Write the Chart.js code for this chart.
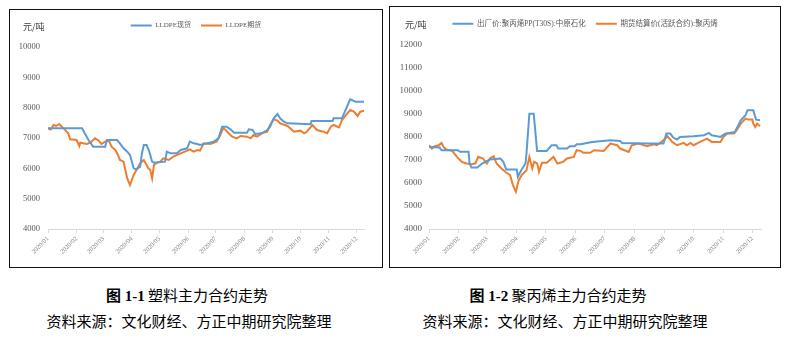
<!DOCTYPE html>
<html lang="zh-CN">
<head>
<meta charset="utf-8">
<title>塑料、聚丙烯主力合约走势</title>
<script src="https://cdn.jsdelivr.net/npm/chart.js@4.4.1/dist/chart.umd.min.js"></script>
<style>
  html, body { margin: 0; padding: 0; background: #fff; }
  body { width: 786px; height: 352px; position: relative; overflow: hidden; font-family: 'Noto Sans CJK SC', sans-serif; }
  canvas { position: absolute; }
  .box { position: absolute; border: 1.5px solid #111; box-sizing: border-box; pointer-events: none; }
  .unit { position: absolute; font-size: 9px; line-height: 12px; color: #404040; }
  .caption { position: absolute; width: 400px; text-align: center; font-size: 15px; line-height: 20px; color: #000; white-space: nowrap; }
  .caption b { font-family: 'Liberation Serif', 'Noto Sans CJK SC', serif; }
</style>
</head>
<body>

<canvas id="peChart" width="372" height="257" style="left:10px;top:10px"></canvas>
<div class="box" style="left:9px;top:9px;width:374px;height:259px"></div>
<div class="unit" style="left:23px;top:21px">元/吨</div>

<canvas id="ppChart" width="390" height="260" style="left:390px;top:7px"></canvas>
<div class="box" style="left:389px;top:6px;width:392px;height:262px"></div>
<div class="unit" style="left:405px;top:19px">元/吨</div>

<div class="caption" style="left:-13px;top:285px"><b>图 1-1</b> 塑料主力合约走势</div>
<div class="caption" style="left:-11px;top:311px">资料来源：文化财经、方正中期研究院整理</div>
<div class="caption" style="left:358px;top:285px"><b>图 1-2</b> 聚丙烯主力合约走势</div>
<div class="caption" style="left:365px;top:311px">资料来源：文化财经、方正中期研究院整理</div>

<script>
// x axis: day of year 2020 (0 = Jan 1), ticks at month starts
const MONTH_DAYS = [0, 31, 60, 91, 121, 152, 182, 213, 244, 274, 305, 335];
const MONTH_LABELS = ['2020/01', '2020/02', '2020/03', '2020/04', '2020/05', '2020/06',
                      '2020/07', '2020/08', '2020/09', '2020/10', '2020/11', '2020/12'];

const PE_Y_TICKS = [4000, 5000, 6000, 7000, 8000, 9000, 10000];
const PP_Y_TICKS = [4000, 5000, 6000, 7000, 8000, 9000, 10000, 11000, 12000];

// 图1-1 LLDPE现货
const peSpotDays = [0, 37, 40, 44, 49, 62, 64, 75, 78, 82, 86, 89, 93, 96, 100, 102, 104, 107, 110, 113,
  115, 127, 129, 133, 140, 144, 151, 154, 158, 162, 165, 173, 180, 185, 189, 194, 198, 202, 216, 218,
  222, 225, 232, 238, 241, 245, 249, 252, 256, 260, 285, 286, 309, 310, 319, 323, 328, 334, 343];
const peSpotPrice = [7320, 7320, 7150, 6935, 6714, 6714, 6934, 6934, 6824, 6660, 6550, 6440, 6000, 5967, 6055, 6500, 6769, 6769, 6550, 6220,
  6187, 6220, 6550, 6495, 6495, 6605, 6660, 6879, 6824, 6802, 6769, 6824, 6879, 6989, 7374, 7374, 7286, 7176, 7176, 7286,
  7264, 7132, 7154, 7264, 7374, 7649, 7792, 7649, 7539, 7484, 7451, 7561, 7561, 7649, 7650, 7923, 8275, 8198, 8198];

// 图1-1 LLDPE期货
const peFutDays = [0, 3, 6, 9, 12, 15, 18, 22, 24, 31, 34, 35, 42, 46, 51, 55, 58, 62, 66, 69,
  73, 76, 78, 82, 84, 86, 89, 93, 96, 100, 104, 107, 109, 111, 113, 115, 118, 122, 125, 131,
  136, 144, 151, 154, 158, 162, 165, 169, 176, 183, 187, 190, 193, 196, 200, 205, 209, 216, 220, 223,
  227, 232, 238, 241, 245, 249, 252, 260, 267, 274, 278, 281, 287, 292, 299, 303, 307, 310, 316, 319,
  325, 328, 332, 336, 339, 343];
const peFutPrice = [7319, 7280, 7429, 7396, 7462, 7374, 7286, 7154, 6956, 6934, 6736, 6846, 6802, 6846, 6989, 6912, 6802, 6879, 6912, 6714,
  6605, 6440, 6275, 6220, 5945, 5670, 5451, 5780, 5945, 6165, 6275, 6110, 6000, 5945, 5670, 6110, 6187, 6220, 6330, 6275,
  6385, 6495, 6583, 6627, 6550, 6605, 6583, 6824, 6802, 6879, 7099, 7319, 7264, 7154, 7044, 6989, 7066, 7044, 6989, 7099,
  7044, 7154, 7209, 7429, 7616, 7572, 7484, 7396, 7209, 7242, 7154, 7209, 7429, 7264, 7209, 7154, 7374, 7429, 7352, 7594,
  7813, 7923, 7868, 7726, 7868, 7901];

// 图1-2 出厂价:聚丙烯PP(T30S):中原石化
const ppSpotDays = [0, 11, 13, 30, 32, 41, 42, 44, 50, 55, 63, 74, 77, 80, 91, 92, 96, 100, 101, 104,
  108.5, 112, 122, 124, 127, 132, 134, 143, 146, 151, 153, 157, 169, 188, 198, 200, 226, 243, 246, 250,
  253, 257, 260, 274, 285, 290, 293, 302, 307, 317, 323, 328, 330, 336, 339, 343];
const ppSpotPrice = [7560, 7531, 7416, 7416, 7344, 7344, 6840, 6667, 6667, 6840, 7013, 7056, 6912, 6581, 6581, 6263, 6581, 6840, 7272, 9000,
  9000, 7387, 7387, 7488, 7632, 7632, 7488, 7488, 7589, 7589, 7675, 7675, 7776, 7848, 7820, 7733, 7704, 7704, 8136, 8136,
  7964, 7878, 7992, 8021, 8065, 8165, 8065, 7992, 8136, 8208, 8714, 8930, 9145, 9145, 8740, 8714];

// 图1-2 期货结算价(活跃合约):聚丙烯
const ppFutDays = [0, 3, 6, 10, 13, 15, 18, 24, 29, 34, 39, 44, 48, 51, 56, 60, 63, 67, 70, 75,
  79, 84, 87, 90, 93, 96, 101, 104, 107, 109, 112, 113, 114, 117, 122, 127, 129, 133, 139, 143,
  150, 153, 157, 160, 167, 171, 181, 188, 195, 198, 207, 210, 217, 226, 233, 236, 243, 247, 252, 257,
  264, 267, 271, 274, 281, 288, 293, 302, 305, 309, 316, 319, 323, 328, 331, 335, 336, 338, 340, 343];
const ppFutPrice = [7632, 7488, 7589, 7632, 7733, 7560, 7445, 7387, 7128, 6912, 6840, 6811, 6840, 7128, 7056, 6840, 7056, 7157, 6840, 6624,
  6480, 6335, 5903, 5615, 6119, 6335, 6551, 7128, 6624, 6912, 6840, 6696, 6480, 6869, 6869, 7056, 7128, 6840, 6912, 7056,
  7128, 7416, 7387, 7301, 7301, 7416, 7387, 7704, 7632, 7488, 7344, 7632, 7704, 7589, 7675, 7632, 7848, 8021, 7776, 7632,
  7733, 7632, 7733, 7632, 7776, 7921, 7776, 7776, 7992, 8136, 8136, 8300, 8570, 8787, 8743, 8743, 8570, 8424, 8570, 8454];

const BLUE = '#5B9BD5';
const ORANGE = '#ED7D31';
const SERIF = "'Liberation Serif', 'Noto Sans CJK SC', serif";

Chart.defaults.font.family = SERIF;

function makeChart(id, cfg) {
  const ctx = document.getElementById(id).getContext('2d');
  return new Chart(ctx, {
    type: 'line',
    data: {
      datasets: cfg.series.map(s => ({
        label: s.label,
        data: s.days.map((d, i) => ({ x: d, y: s.values[i] })),
        borderColor: s.color,
        backgroundColor: s.color,
        borderWidth: 2,
        pointRadius: 0,
        tension: 0,
      }))
    },
    options: {
      responsive: false,
      animation: false,
      devicePixelRatio: 1,
      layout: { padding: { top: cfg.padTop, left: 0, right: 0, bottom: 0 } },
      plugins: {
        legend: {
          position: 'top',
          labels: {
            boxWidth: 21,
            boxHeight: 0,
            padding: 10,
            color: '#595959',
            font: { size: cfg.legendSize }
          }
        },
        tooltip: { enabled: false }
      },
      scales: {
        x: {
          type: 'linear',
          min: 0,
          max: cfg.xMax,
          afterBuildTicks: s => { s.ticks = MONTH_DAYS.map(v => ({ value: v })); },
          afterFit: s => { s.height = 38; s.paddingRight = cfg.padRight; },
          ticks: {
            autoSkip: false,
            minRotation: 45,
            maxRotation: 45,
            padding: 2,
            color: '#7f7f7f',
            font: { size: 6.5 },
            callback: (v, i) => MONTH_LABELS[i]
          },
          grid: { drawOnChartArea: false, drawTicks: true, tickLength: 4, color: '#d9d9d9' },
          border: { color: '#d9d9d9' }
        },
        y: {
          min: 4000,
          max: cfg.yMax,
          afterBuildTicks: s => { s.ticks = cfg.yTicks.map(v => ({ value: v })); },
          afterFit: s => { s.width = cfg.axisWidth; },
          ticks: {
            padding: cfg.tickPad,
            color: '#595959',
            font: { size: cfg.yFontSize },
            callback: v => String(v)
          },
          grid: { display: false, drawTicks: false },
          border: { display: false }
        }
      }
    }
  });
}

document.addEventListener('DOMContentLoaded', () => {
  makeChart('peChart', {
    series: [
      { label: 'LLDPE现货', days: peSpotDays, values: peSpotPrice, color: BLUE },
      { label: 'LLDPE期货', days: peFutDays, values: peFutPrice, color: ORANGE }
    ],
    yTicks: PE_Y_TICKS,
    yMax: 10264,     // room above 10000 for the legend gap
    xMax: 343,
    padTop: 2,
    padRight: 18,
    axisWidth: 38,
    tickPad: 8,
    yFontSize: 8.5,
    legendSize: 7
  });

  makeChart('ppChart', {
    series: [
      { label: '出厂价:聚丙烯PP(T30S):中原石化', days: ppSpotDays, values: ppSpotPrice, color: BLUE },
      { label: '期货结算价(活跃合约):聚丙烯', days: ppFutDays, values: ppFutPrice, color: ORANGE }
    ],
    yTicks: PP_Y_TICKS,
    yMax: 12303,
    xMax: 344,
    padTop: 3,
    padRight: 19,
    axisWidth: 39,
    tickPad: 7,
    yFontSize: 9,
    legendSize: 7.5
  });
});
</script>
</body>
</html>
